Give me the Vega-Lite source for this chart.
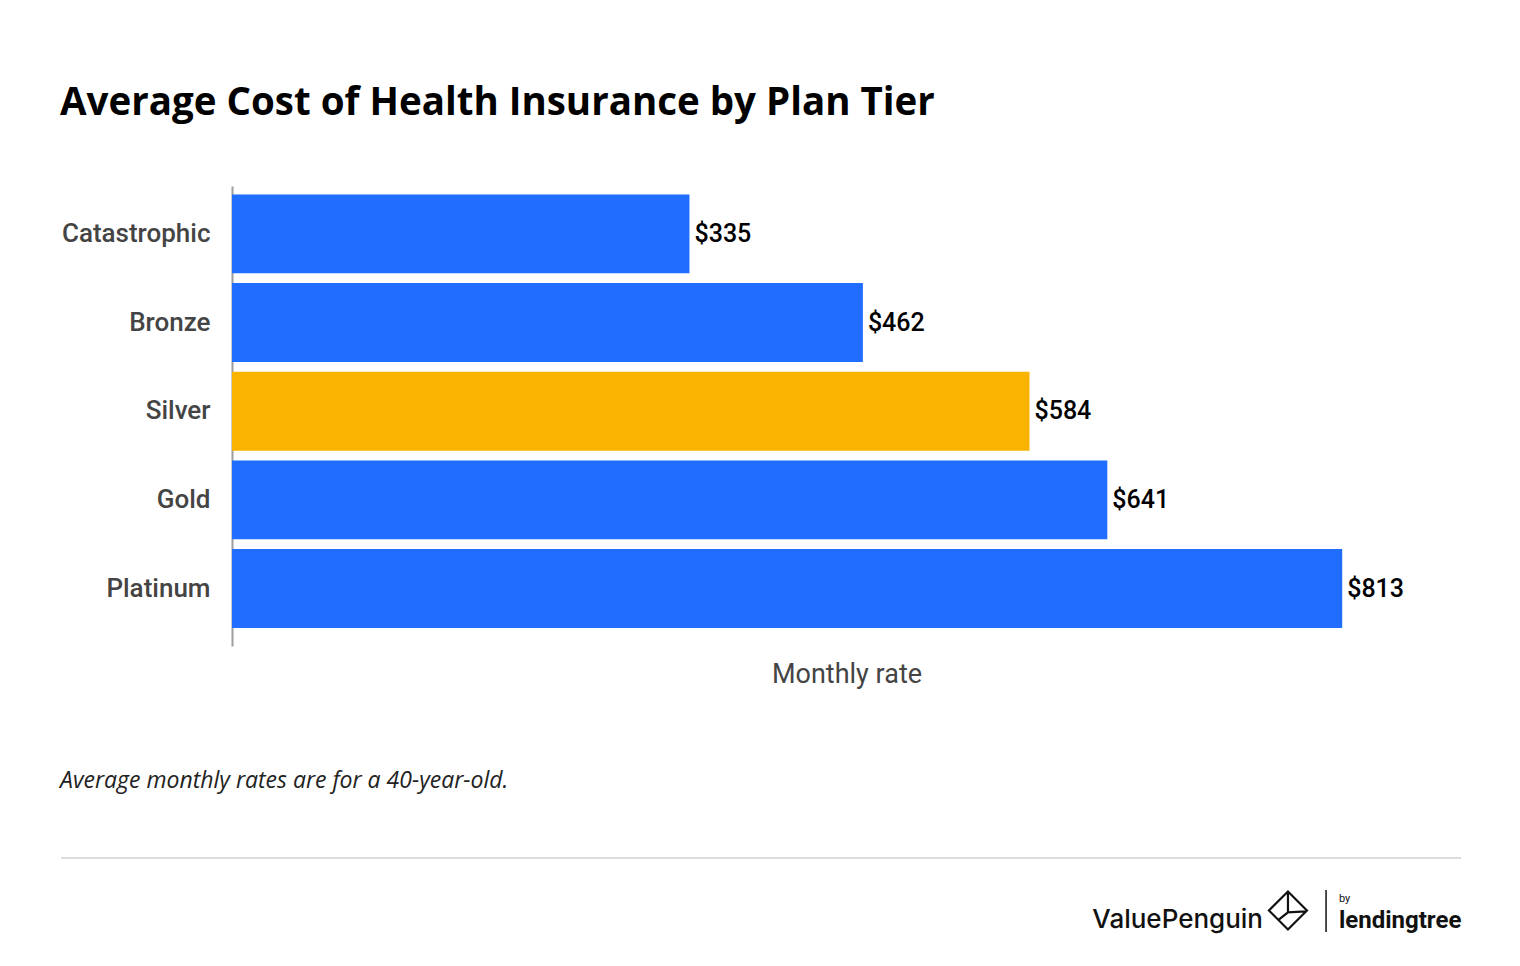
{
  "$schema": "https://vega.github.io/schema/vega-lite/v6.json",
  "background": "white",
  "padding": {"left": 60, "top": 83, "right": 60, "bottom": 20},
  "config": {"view": {"stroke": null}, "font": "Roboto"},
  "title": {
    "text": "Average Cost of Health Insurance by Plan Tier",
    "anchor": "start",
    "font": "Open Sans",
    "fontSize": 38.5,
    "fontWeight": "bold",
    "color": "#000000",
    "offset": 63
  },
  "columns": 1,
  "spacing": 83,
  "concat": [
    {
      "width": 1229,
      "height": 460,
      "data": {
        "values": [
          {"tier": "Catastrophic", "rate": 335},
          {"tier": "Bronze", "rate": 462},
          {"tier": "Silver", "rate": 584},
          {"tier": "Gold", "rate": 641},
          {"tier": "Platinum", "rate": 813}
        ]
      },
      "encoding": {
        "y": {
          "field": "tier",
          "type": "nominal",
          "sort": null,
          "scale": {"paddingInner": 0.11, "paddingOuter": 0.149, "align": 0.32},
          "axis": {
            "title": null,
            "domain": true,
            "domainColor": "#9e9e9e",
            "domainWidth": 2,
            "ticks": false,
            "labelFont": "Roboto",
            "labelFontSize": 26,
            "labelFontWeight": 500,
            "labelColor": "#444444",
            "labelPadding": 22,
            "minExtent": 171,
            "maxExtent": 171
          }
        },
        "x": {
          "field": "rate",
          "type": "quantitative",
          "scale": {"domain": [0, 900]},
          "axis": {
            "title": "Monthly rate",
            "domain": false,
            "ticks": false,
            "labels": false,
            "grid": false,
            "titleFont": "Roboto",
            "titleFontSize": 27,
            "titleFontWeight": "normal",
            "titleColor": "#444444",
            "titlePadding": 15
          }
        }
      },
      "layer": [
        {
          "mark": {"type": "bar"},
          "encoding": {
            "color": {
              "field": "tier",
              "type": "nominal",
              "scale": {
                "domain": ["Catastrophic", "Bronze", "Silver", "Gold", "Platinum"],
                "range": ["#206dff", "#206dff", "#f9b300", "#206dff", "#206dff"]
              },
              "legend": null
            }
          }
        },
        {
          "mark": {
            "type": "text",
            "align": "left",
            "baseline": "middle",
            "dx": 5,
            "font": "Roboto",
            "fontSize": 25,
            "fontWeight": 500,
            "color": "#000000"
          },
          "encoding": {"text": {"field": "rate", "type": "quantitative", "format": "$,.0f"}}
        }
      ]
    },
    {
      "width": 1229,
      "height": 90,
      "title": {
        "text": "Average monthly rates are for a 40-year-old.",
        "anchor": "start",
        "font": "Open Sans",
        "fontStyle": "italic",
        "fontSize": 23,
        "fontWeight": "normal",
        "color": "#222222",
        "offset": 64
      },
      "data": {"values": [{}]},
      "layer": [
        {
          "mark": {"type": "rule", "color": "#dcdcdc", "strokeWidth": 2},
          "encoding": {
            "x": {"datum": -0.1391, "type": "quantitative", "scale": {"domain": [0, 1]}, "axis": null},
            "x2": {"datum": 1},
            "y": {"datum": 1, "type": "quantitative", "scale": {"domain": [0, 1]}, "axis": null}
          }
        },
        {
          "mark": {"type": "text", "text": "ValuePenguin", "align": "right", "baseline": "alphabetic", "font": "Inter", "fontSize": 26, "fontWeight": 500, "color": "#111111"},
          "encoding": {
            "x": {"datum": 0.8389, "type": "quantitative"},
            "y": {"datum": 0.222, "type": "quantitative"}
          }
        },
        {
          "mark": {"type": "point", "shape": "M0,-1L1,0L0,1L-1,0Z M0,-1L0,0.1L0.95,0.05 M0,0.1L-0.5,0.5", "filled": false, "stroke": "#111111", "strokeWidth": 2.2, "size": 1444, "opacity": 1},
          "encoding": {
            "x": {"datum": 0.8592, "type": "quantitative"},
            "y": {"datum": 0.417, "type": "quantitative"}
          }
        },
        {
          "mark": {"type": "rule", "color": "#111111", "strokeWidth": 1.5},
          "encoding": {
            "x": {"datum": 0.8902, "type": "quantitative"},
            "y": {"datum": 0.644, "type": "quantitative"},
            "y2": {"datum": 0.178}
          }
        },
        {
          "mark": {"type": "text", "text": "by", "align": "left", "baseline": "alphabetic", "font": "Roboto", "fontSize": 11, "color": "#111111"},
          "encoding": {
            "x": {"datum": 0.9007, "type": "quantitative"},
            "y": {"datum": 0.511, "type": "quantitative"}
          }
        },
        {
          "mark": {"type": "text", "text": "lendingtree", "align": "left", "baseline": "alphabetic", "font": "Roboto", "fontSize": 24, "fontWeight": "bold", "color": "#111111"},
          "encoding": {
            "x": {"datum": 0.9007, "type": "quantitative"},
            "y": {"datum": 0.222, "type": "quantitative"}
          }
        }
      ]
    }
  ]
}
